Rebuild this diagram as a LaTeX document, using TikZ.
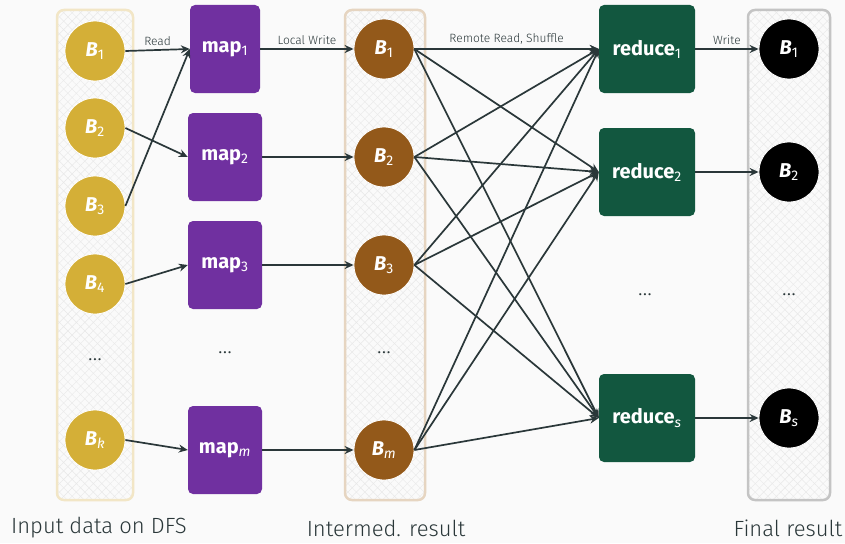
\documentclass[tikz,border=0pt]{standalone}
\usepackage{fontspec}
\setmainfont{Fira Sans}
\newfontfamily\lightfont{Fira Sans Light}
\usetikzlibrary{arrows.meta,patterns.meta}

\definecolor{bgcol}{HTML}{FAFAFA}
\definecolor{slate}{HTML}{2A3739}
\definecolor{inyellow}{HTML}{D4AF37}
\definecolor{mappurple}{HTML}{7030A0}
\definecolor{midbrown}{HTML}{93591A}
\definecolor{redgreen}{HTML}{12573F}
\definecolor{inborder}{HTML}{F2E6C6}
\definecolor{midborder}{HTML}{E6D5C1}
\definecolor{outborder}{HTML}{C4C4C4}

\newcommand{\blk}[1]{\textit{B}\textsubscript{\mdseries#1}}
\newcommand{\sub}[1]{\textsubscript{\mdseries#1}}

\tikzset{
  block/.style={circle,minimum size=60pt,inner sep=0pt,draw=white,line width=0.8pt,
    text=white,font=\fontsize{20}{22}\selectfont\bfseries},
  task/.style={rectangle,rounded corners=5pt,minimum height=88pt,inner sep=0pt,
    text=white,font=\fontsize{20}{22}\selectfont\bfseries},
  store/.style={rectangle,rounded corners=7pt,line width=2.5pt,minimum height=490pt,
    preaction={fill=bgcol},
    preaction={pattern={Lines[angle=45,distance=6pt,line width=0.4pt]},pattern color=black!9},
    pattern={Lines[angle=-45,distance=6pt,line width=0.4pt]},pattern color=black!9},
  flow/.style={-{Stealth[length=9pt,width=8pt,inset=3pt]},draw=slate,line width=1.7pt},
  flowlabel/.style={font=\lightfont\fontsize{12}{13}\selectfont,text=slate,above,inner sep=4pt},
  caption/.style={font=\lightfont\fontsize{22}{24}\selectfont,text=slate},
  gap/.style={font=\lightfont\fontsize{22}{24}\selectfont,text=slate}
}

\begin{document}
\begin{tikzpicture}[x=1pt,y=-1pt]
    % Canvas
    \fill[bgcol] (0,0) rectangle (845,543);
    \useasboundingbox (0,0) rectangle (845,543);

    % Storage columns
    \node[store,draw=inborder,minimum width=76pt] (dfs) at (95,255) {};
    \node[store,draw=midborder,minimum width=80pt] (inter) at (385,255) {};
    \node[store,draw=outborder,minimum width=82pt] (final) at (789,255) {};

    % Input blocks on DFS
    \node[block,fill=inyellow] (in1) at (95,51) {\blk{1}};
    \node[block,fill=inyellow] (in2) at (95,128) {\blk{2}};
    \node[block,fill=inyellow] (in3) at (95,206) {\blk{3}};
    \node[block,fill=inyellow] (in4) at (95,284) {\blk{4}};
    \node[gap] (indots) at (95,360) {\dots};
    \node[block,fill=inyellow] (ink) at (95,440) {\blk{\textit{k}}};

    % Map tasks
    \node[task,fill=mappurple,minimum width=70pt] (map1) at (225,49) {map\sub{1}};
    \node[task,fill=mappurple,minimum width=74pt] (map2) at (225,157) {map\sub{2}};
    \node[task,fill=mappurple,minimum width=74pt] (map3) at (225,265) {map\sub{3}};
    \node[gap] (mapdots) at (225,353) {\dots};
    \node[task,fill=mappurple,minimum width=74pt] (mapm) at (225,450) {map\sub{\textit{m}}};

    % Intermediate results
    \node[block,fill=midbrown] (mid1) at (384,49) {\blk{1}};
    \node[block,fill=midbrown] (mid2) at (384,157) {\blk{2}};
    \node[block,fill=midbrown] (mid3) at (384,265) {\blk{3}};
    \node[gap] (middots) at (384,353) {\dots};
    \node[block,fill=midbrown] (midm) at (384,450) {\blk{\textit{m}}};

    % Reduce tasks
    \node[task,fill=redgreen,minimum width=96pt] (red1) at (647,49) {reduce\sub{1}};
    \node[task,fill=redgreen,minimum width=96pt] (red2) at (647,172) {reduce\sub{2}};
    \node[gap] (reddots) at (645,295) {\dots};
    \node[task,fill=redgreen,minimum width=96pt] (reds) at (647,418) {reduce\sub{\textit{s}}};

    % Final result blocks
    \node[block,fill=black] (out1) at (789,49) {\blk{1}};
    \node[block,fill=black] (out2) at (789,172) {\blk{2}};
    \node[gap] (outdots) at (789,295) {\dots};
    \node[block,fill=black] (outs) at (789,418) {\blk{\textit{s}}};

    % Read
    \draw[flow] (in1.east) -- node[flowlabel] {Read} (map1.west);
    \draw[flow] (in2.east) -- (map2.west);
    \draw[flow] (in3.east) -- (map1.west);
    \draw[flow] (in4.east) -- (map3.west);
    \draw[flow] (ink.east) -- (mapm.west);

    % Local write
    \draw[flow] (map1.east) -- node[flowlabel] {Local Write} (mid1.west);
    \draw[flow] (map2.east) -- (mid2.west);
    \draw[flow] (map3.east) -- (mid3.west);
    \draw[flow] (mapm.east) -- (midm.west);

    % Remote read, shuffle
    \draw[flow] (mid1.east) -- node[flowlabel] {Remote Read, Shuffle} (red1.west);
    \foreach \m in {mid1,mid2,mid3,midm}
      \foreach \r in {red1,red2,reds}
        \draw[flow] (\m.east) -- (\r.west);

    % Write
    \draw[flow] (red1.east) -- node[flowlabel] {Write} (out1.west);
    \draw[flow] (red2.east) -- (out2.west);
    \draw[flow] (reds.east) -- (outs.west);

    % Captions
    \node[caption] (dfscap) at (99,528) {Input data on DFS};
    \node[caption] (intercap) at (386,528) {Intermed. result};
    \node[caption] (finalcap) at (788,528) {Final result};
\end{tikzpicture}
\end{document}
